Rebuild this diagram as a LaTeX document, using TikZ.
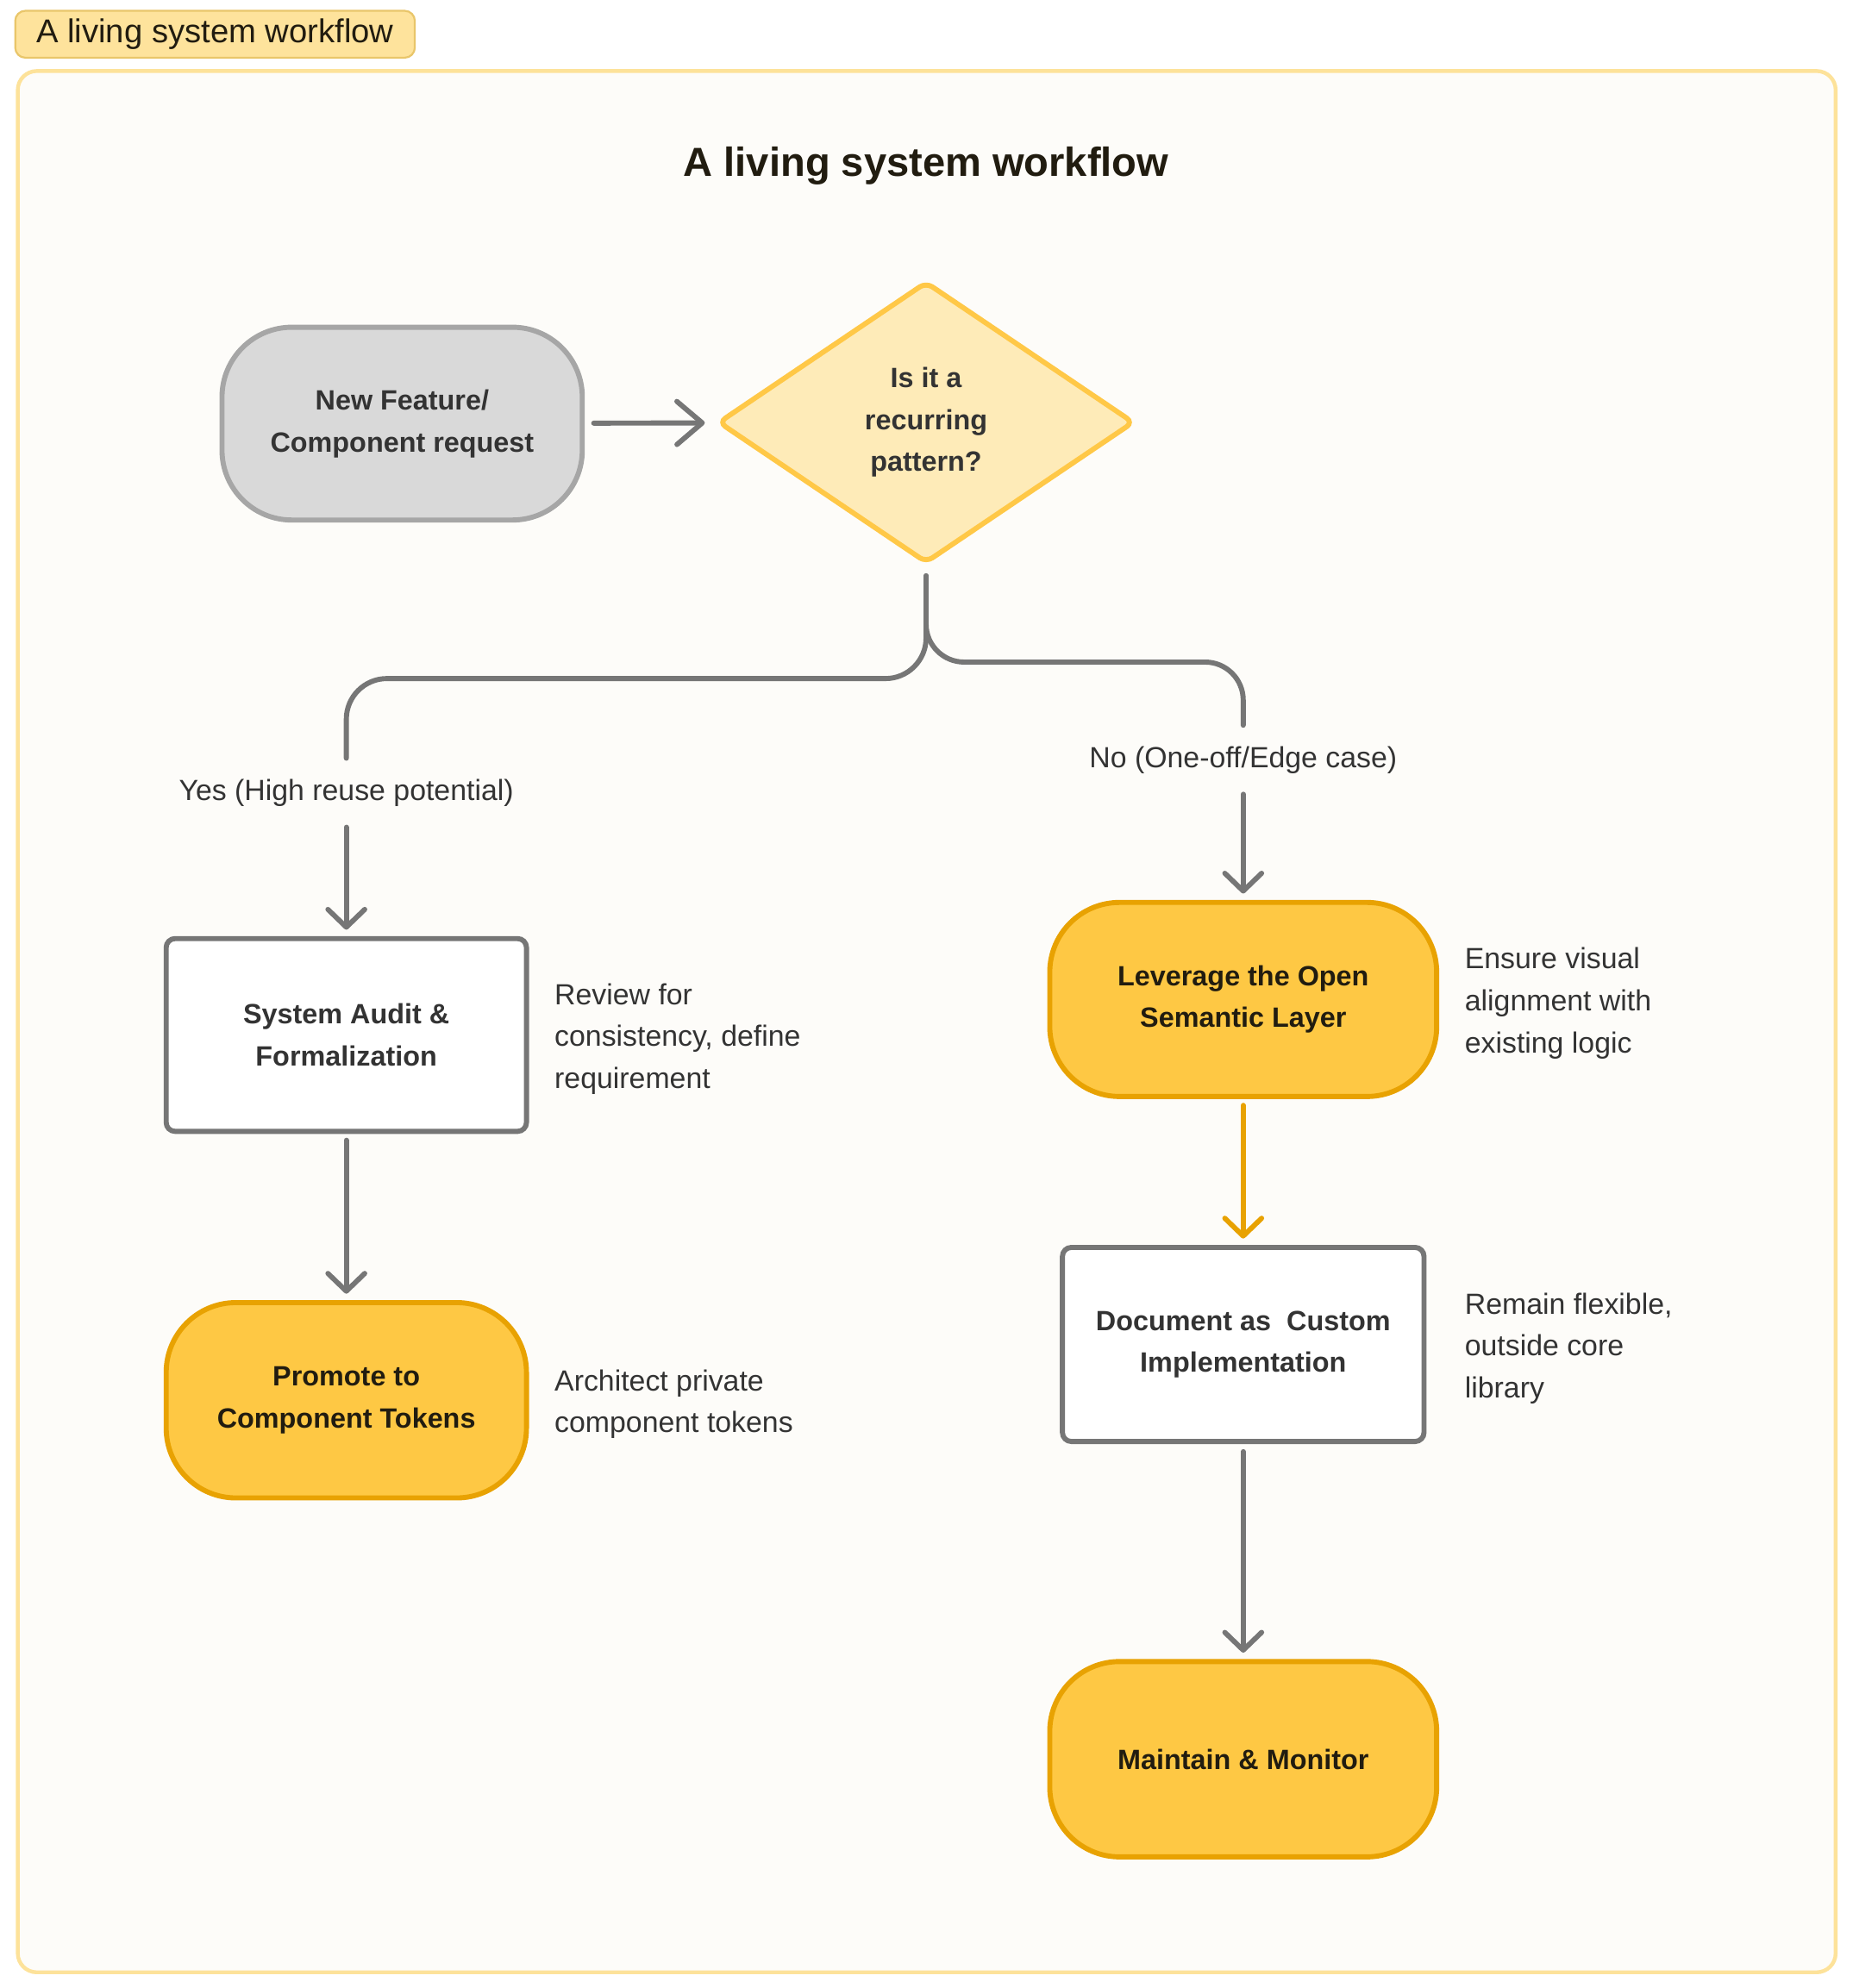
\documentclass[tikz,border=0pt]{standalone}
\usepackage{fontspec}
\setmainfont{Liberation Sans}
\usetikzlibrary{positioning,shapes.geometric,arrows.meta}
\definecolor{inkdark}{HTML}{211C10}
\definecolor{inkgrey}{HTML}{333333}
\definecolor{pagefill}{HTML}{FDFCF9}
\definecolor{frameline}{HTML}{FDE29A}
\definecolor{tagfill}{HTML}{FEE39C}
\definecolor{tagline}{HTML}{E9C66A}
\definecolor{greyfill}{HTML}{D9D9D9}
\definecolor{greyline}{HTML}{A6A6A6}
\definecolor{askfill}{HTML}{FEEBB8}
\definecolor{askline}{HTML}{FFC847}
\definecolor{goldfill}{HTML}{FEC844}
\definecolor{goldline}{HTML}{E8A202}
\definecolor{linkgrey}{HTML}{767676}
\begin{document}
\begin{tikzpicture}[x=1pt,y=-1pt,
  base/.style={font=\fontsize{22}{33}\selectfont\bfseries, align=center, line width=4pt, inner sep=0pt},
  termgrey/.style={base, draw=greyline, fill=greyfill, text=inkgrey, minimum width=284pt, minimum height=152pt, rounded corners=55pt},
  termgold/.style={base, draw=goldline, fill=goldfill, text=inkdark, minimum width=305pt, minimum height=153pt, rounded corners=55pt},
  procbox/.style={base, draw=linkgrey, fill=white, text=inkgrey, minimum width=284pt, minimum height=152pt, rounded corners=7pt},
  decision/.style={base, diamond, aspect=1.48, draw=askline, fill=askfill, text=inkgrey, minimum width=328pt, minimum height=222pt, rounded corners=6pt},
  note/.style={font=\fontsize{23}{33}\selectfont, align=left, text=inkgrey, inner sep=0pt, yshift=-3pt},
  branch/.style={font=\fontsize{23}{33}\selectfont, text=inkgrey, inner sep=0pt, minimum height=54pt},
  link/.style={draw=linkgrey, line width=4pt, line cap=round, line join=round},
  flow/.style={link, -{Straight Barb[length=14pt,width=29pt,round]}}
]
\useasboundingbox (0,0) rectangle (1460,1567.4);
\fill[white] (0,0) rectangle (1460,1567.4);
\draw[frameline, line width=3pt, fill=pagefill, rounded corners=15pt] (14,56) rectangle (1447,1555);
\node[draw=tagline, fill=tagfill, line width=1.5pt, rounded corners=8pt, minimum width=315pt, minimum height=37pt, inner sep=0pt, text=inkdark, font=\fontsize{26}{30}\selectfont] (tag) at (169.5,27) {A living system workflow};
\node[font=\fontsize{32}{36}\selectfont\bfseries, text=inkdark] (title) at (730,131) {A living system workflow};

\node[termgrey] (start) at (317,334) {New Feature/\\Component request};
\node[decision] (ask) at (730,333) {Is it a\\recurring\\pattern?};
\node[branch] (yes) at (273,625) {Yes (High reuse potential)};
\node[branch] (no) at (980,599) {No (One-off/Edge case)};
\node[procbox] (audit) at (273,816) {System Audit \&\\Formalization};
\node[termgold, minimum width=284pt, minimum height=154pt] (promote) at (273,1104) {Promote to\\Component Tokens};
\node[termgold] (lever) at (980,788) {Leverage the Open\\Semantic Layer};
\node[procbox, minimum width=285pt, minimum height=153pt] (doc) at (980,1060) {Document as~ Custom\\Implementation};
\node[termgold, minimum height=154pt] (maint) at (980,1387) {Maintain \& Monitor};

\node[note, anchor=west, right=20pt of audit] (auditnote) {Review for\\consistency, define\\requirement};
\node[note, anchor=west, right=20pt of promote] (promotenote) {Architect private\\component tokens};
\node[note, anchor=west, right=20pt of lever] (levernote) {Ensure visual\\alignment with\\existing logic};
\node[note, anchor=west, right=30pt of doc] (docnote) {Remain flexible,\\outside core\\library};

\coordinate (yesbend) at (273,535);
\coordinate (nobend) at (980,522);

\draw[flow, -{Straight Barb[length=20pt,width=34pt,round]}, shorten <=7pt, shorten >=9pt] (start) -- (ask);
\draw[link, rounded corners=32pt] ([yshift=-8pt]ask.south) |- (yesbend) -- (yes.north);
\draw[link, rounded corners=30pt] ([yshift=-8pt]ask.south) |- (nobend) -- (no.north);
\draw[flow, shorten >=5pt] (yes) -- (audit);
\draw[flow, shorten >=5pt] (no) -- (lever);
\draw[flow, shorten <=5pt, shorten >=5pt] (audit) -- (promote);
\draw[flow, draw=goldline, shorten <=5pt, shorten >=5pt] (lever) -- (doc);
\draw[flow, shorten <=6pt, shorten >=5pt] (doc) -- (maint);
\end{tikzpicture}
\end{document}
